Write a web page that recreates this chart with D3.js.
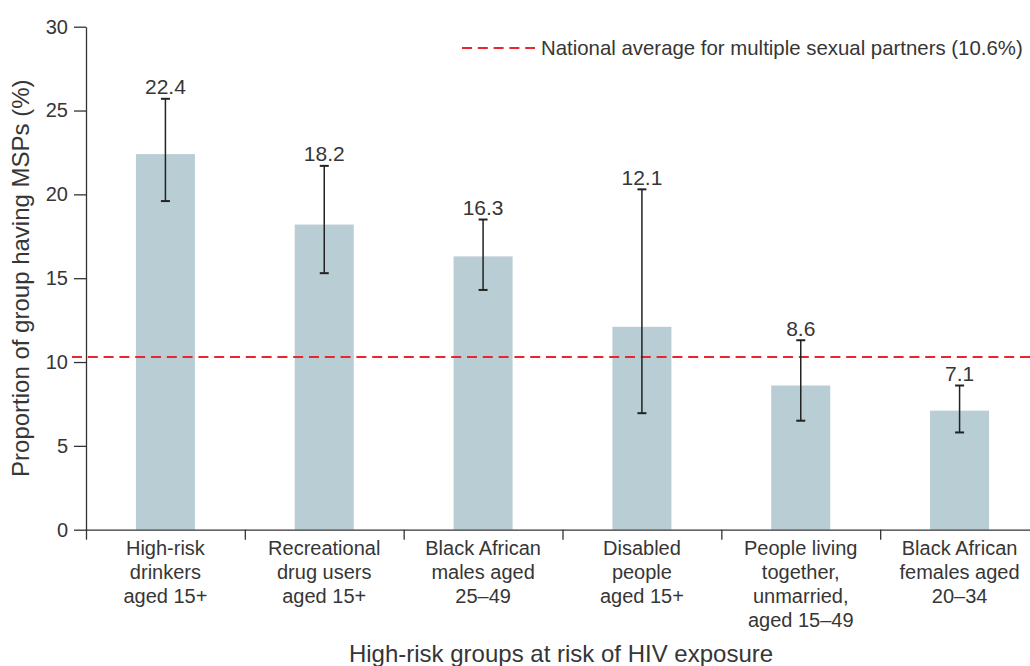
<!DOCTYPE html>
<html>
<head>
<meta charset="utf-8">
<script src="https://cdn.jsdelivr.net/npm/d3@7"></script>
<style>
  html, body { margin: 0; padding: 0; background: #ffffff; }
  svg { display: block; font-family: "Liberation Sans", Arial, Helvetica, sans-serif; }
</style>
</head>
<body>
<svg id="chart" width="1030" height="666"></svg>
<script>
// ---- data ----
const categories = [
  ["High-risk", "drinkers", "aged 15+"],
  ["Recreational", "drug users", "aged 15+"],
  ["Black African", "males aged", "25\u201349"],
  ["Disabled", "people", "aged 15+"],
  ["People living", "together,", "unmarried,", "aged 15\u201349"],
  ["Black African", "females aged", "20\u201334"]
];
const values = [22.4, 18.2, 16.3, 12.1, 8.6, 7.1];
const errLow = [19.6, 15.3, 14.3, 6.95, 6.5, 5.8];
const errHigh = [25.7, 21.7, 18.5, 20.3, 11.3, 8.6];
const yTicks = [0, 5, 10, 15, 20, 25, 30];
const nationalAverageLine = 10.3;
const legendLabel = "National average for multiple sexual partners (10.6%)";
const yTitle = "Proportion of group having MSPs (%)";
const xTitle = "High-risk groups at risk of HIV exposure";

(function () {
// ---- layout ----
const svg = d3.select("#chart");
const plotLeft = 86, plotRight = 1039, plotTop = 26.7, plotBottom = 529.7;
const textColor = "#363636";
const axisColor = "#333333";

const idx = d3.range(categories.length);
const x = d3.scaleBand().domain(idx).range([plotLeft, plotRight])
  .paddingInner(0.6285).paddingOuter(0.6285 / 2);
const xEdge = d3.scaleLinear().domain([0, categories.length]).range([plotLeft, plotRight]);
const y = d3.scaleLinear().domain([0, 30]).range([plotBottom, plotTop]);

// bars
svg.append("g").selectAll("rect").data(idx).join("rect")
  .attr("x", i => x(i))
  .attr("y", i => y(values[i]))
  .attr("width", x.bandwidth())
  .attr("height", i => y(0) - y(values[i]))
  .attr("fill", "#b9cdd4");

// national average line
svg.append("line")
  .attr("x1", 72).attr("x2", 1030)
  .attr("y1", y(nationalAverageLine)).attr("y2", y(nationalAverageLine))
  .attr("stroke", "#e8262d").attr("stroke-width", 2)
  .attr("stroke-dasharray", "10,5.8");

// error bars
const eb = svg.append("g").attr("stroke", "#222").attr("stroke-width", 1.5);
idx.forEach(i => {
  const cx = x(i) + x.bandwidth() / 2;
  eb.append("line").attr("x1", cx).attr("x2", cx).attr("y1", y(errHigh[i])).attr("y2", y(errLow[i]));
  eb.append("line").attr("x1", cx - 4.5).attr("x2", cx + 4.5).attr("y1", y(errHigh[i])).attr("y2", y(errHigh[i])).attr("stroke-width", 2);
  eb.append("line").attr("x1", cx - 4.5).attr("x2", cx + 4.5).attr("y1", y(errLow[i])).attr("y2", y(errLow[i])).attr("stroke-width", 2);
});

// value labels
svg.append("g").selectAll("text").data(idx).join("text")
  .attr("x", i => x(i) + x.bandwidth() / 2)
  .attr("y", i => y(errHigh[i]) - 4.5)
  .attr("text-anchor", "middle")
  .attr("font-size", 21)
  .attr("fill", textColor)
  .text(i => values[i].toFixed(1));

// y axis
const yAxis = svg.append("g").attr("transform", `translate(${plotLeft},0)`)
  .call(d3.axisLeft(y).tickValues(yTicks).tickSize(12).tickSizeOuter(0).tickPadding(6));
yAxis.selectAll("path,line").attr("stroke", axisColor).attr("stroke-width", 1.3);
yAxis.selectAll("text").attr("font-size", 20).attr("fill", textColor)
  .attr("font-family", "Liberation Sans, Arial, sans-serif");

// x axis (category boundary ticks)
const xAxis = svg.append("g").attr("transform", `translate(0,${plotBottom})`)
  .call(d3.axisBottom(xEdge).tickValues(d3.range(categories.length + 1)).tickSize(10).tickSizeOuter(0).tickFormat(""));
xAxis.selectAll("path,line").attr("stroke", axisColor).attr("stroke-width", 1.3);

// category labels
const lab = svg.append("g").selectAll("text").data(idx).join("text")
  .attr("text-anchor", "middle")
  .attr("font-size", 20)
  .attr("fill", textColor);
lab.each(function(i) {
  const t = d3.select(this);
  const cx = x(i) + x.bandwidth() / 2;
  categories[i].forEach((line, k) => {
    t.append("tspan").attr("x", cx).attr("y", 555 + k * 24).text(line);
  });
});

// axis titles
svg.append("text")
  .attr("transform", `translate(29,${(plotTop + plotBottom) / 2}) rotate(-90)`)
  .attr("text-anchor", "middle")
  .attr("font-size", 24)
  .attr("fill", textColor)
  .text(yTitle);

svg.append("text")
  .attr("x", 561).attr("y", 662)
  .attr("text-anchor", "middle")
  .attr("font-size", 24)
  .attr("fill", textColor)
  .text(xTitle);

// legend
svg.append("line")
  .attr("x1", 462).attr("x2", 535).attr("y1", 48).attr("y2", 48)
  .attr("stroke", "#e8262d").attr("stroke-width", 2)
  .attr("stroke-dasharray", "10,5.8");
svg.append("text")
  .attr("x", 541).attr("y", 55)
  .attr("font-size", 20.4)
  .attr("fill", textColor)
  .text(legendLabel);
})();
</script>
</body>
</html>
